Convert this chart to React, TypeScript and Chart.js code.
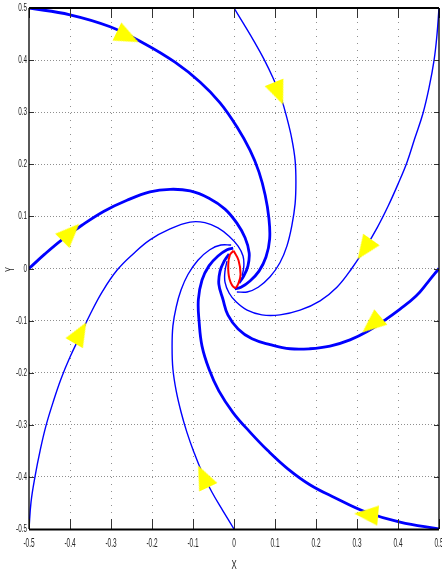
import React, { useEffect, useRef } from 'react';
import { Chart, registerables } from 'chart.js';

Chart.register(...registerables);

type Pt = [number, number];

const xTickValues = [-0.5, -0.4, -0.3, -0.2, -0.1, 0, 0.1, 0.2, 0.3, 0.4, 0.5];
const xTickLabels = ['-0.5', '-0.4', '-0.3', '-0.2', '-0.1', '0', '0.1', '0.2', '0.3', '0.4', '0.5'];
const yTickValues = [-0.5, -0.4, -0.3, -0.2, -0.1, 0, 0.1, 0.2, 0.3, 0.4, 0.5];
const yTickLabels = ['-0.5', '-0.4', '-0.3', '-0.2', '-0.1', '0', '0.1', '0.2', '0.3', '0.4', '0.5'];
const xTitle = 'X';
const yTitle = 'Y';

// thick trajectory from top-left corner
const curveA: Pt[] = [
  [-0.5, 0.5], [-0.4, 0.487], [-0.302, 0.464], [-0.217, 0.431], [-0.144, 0.396], [-0.083, 0.358],
  [-0.034, 0.318], [0.007, 0.272], [0.039, 0.227], [0.061, 0.185], [0.076, 0.141], [0.085, 0.097],
  [0.087, 0.057], [0.078, 0.022], [0.061, -0.005], [0.039, -0.024], [0.017, -0.036], [0.002, -0.039],
];
// thick trajectory from bottom-right corner
const curveA2: Pt[] = [
  [0.5, -0.5], [0.405, -0.487], [0.32, -0.467], [0.246, -0.44], [0.185, -0.415], [0.132, -0.385],
  [0.083, -0.35], [0.039, -0.314], [-0.002, -0.277], [-0.037, -0.235], [-0.061, -0.193], [-0.078, -0.149],
  [-0.085, -0.103], [-0.087, -0.06], [-0.078, -0.022], [-0.061, 0.005], [-0.039, 0.024], [-0.017, 0.036],
  [-0.002, 0.039],
];
// thick trajectory from left middle
const curveB: Pt[] = [
  [-0.5, 0.0], [-0.461, 0.028], [-0.42, 0.055], [-0.371, 0.083], [-0.317, 0.11], [-0.261, 0.131],
  [-0.205, 0.147], [-0.156, 0.152], [-0.107, 0.149], [-0.061, 0.135], [-0.022, 0.114], [0.007, 0.087],
  [0.027, 0.059], [0.037, 0.03], [0.034, 0.005], [0.024, -0.014], [0.012, -0.028],
];
// thick trajectory from right middle
const curveB2: Pt[] = [
  [0.5, 0.0], [0.473, -0.026], [0.444, -0.053], [0.405, -0.078], [0.368, -0.099], [0.327, -0.12],
  [0.283, -0.137], [0.234, -0.149], [0.185, -0.154], [0.137, -0.154], [0.088, -0.146], [0.044, -0.135],
  [0.01, -0.116], [-0.015, -0.089], [-0.027, -0.059], [-0.037, -0.03], [-0.034, -0.005], [-0.024, 0.014],
  [-0.012, 0.028],
];
// thin trajectory from top middle
const curveC: Pt[] = [
  [0.0, 0.5], [0.024, 0.469], [0.049, 0.436], [0.073, 0.402], [0.095, 0.366], [0.115, 0.327],
  [0.129, 0.289], [0.141, 0.249], [0.149, 0.208], [0.151, 0.166], [0.149, 0.124], [0.141, 0.082],
  [0.129, 0.043], [0.112, 0.011], [0.088, -0.016], [0.059, -0.036], [0.032, -0.045], [0.007, -0.045],
];
// thin trajectory from bottom middle
const curveC2: Pt[] = [
  [0.0, -0.5], [-0.027, -0.465], [-0.054, -0.429], [-0.078, -0.391], [-0.098, -0.352], [-0.115, -0.314],
  [-0.129, -0.276], [-0.141, -0.235], [-0.149, -0.193], [-0.151, -0.151], [-0.149, -0.11], [-0.141, -0.074],
  [-0.129, -0.041], [-0.112, -0.011], [-0.088, 0.016], [-0.059, 0.036], [-0.032, 0.045], [-0.007, 0.045],
];
// thin trajectory from top-right corner
const curveD: Pt[] = [
  [0.5, 0.5], [0.495, 0.448], [0.488, 0.4], [0.476, 0.348], [0.461, 0.298], [0.441, 0.25],
  [0.422, 0.204], [0.4, 0.162], [0.376, 0.12], [0.349, 0.078], [0.32, 0.039], [0.288, 0.001],
  [0.251, -0.036], [0.21, -0.062], [0.161, -0.08], [0.112, -0.089], [0.068, -0.089], [0.032, -0.08],
  [0.005, -0.064], [-0.012, -0.047], [-0.022, -0.026], [-0.022, -0.005], [-0.017, 0.014],
];
// thin trajectory from bottom-left corner
const curveD2: Pt[] = [
  [-0.5, -0.5], [-0.495, -0.448], [-0.485, -0.398], [-0.473, -0.35], [-0.459, -0.303], [-0.441, -0.256],
  [-0.422, -0.212], [-0.4, -0.17], [-0.376, -0.13], [-0.349, -0.085], [-0.32, -0.043], [-0.285, -0.003],
  [-0.246, 0.028], [-0.205, 0.055], [-0.156, 0.076], [-0.107, 0.089], [-0.071, 0.088], [-0.039, 0.078],
  [-0.012, 0.062], [0.01, 0.043], [0.022, 0.024], [0.024, 0.005], [0.02, -0.014],
];
// red closed orbit around the origin
const orbit: Pt[] = [
  [-0.001, 0.034], [0.011, 0.016], [0.016, -0.011], [0.011, -0.028], [0.002, -0.037],
  [-0.011, -0.02], [-0.014, 0.007], [-0.01, 0.026], [-0.001, 0.034],
];

// direction arrows: position and heading (screen degrees, clockwise)
const arrowX = [-0.268, 0.105, 0.324, 0.343, -0.405, -0.38, -0.071, 0.332];
const arrowY = [0.448, 0.343, 0.043, -0.103, 0.064, -0.13, -0.406, -0.473];
const arrowAngle = [26, 68, 125, 140, -45, -60, -115, 185];

const FONT = "'Liberation Sans', Arial, sans-serif";

function makeArrow(): HTMLCanvasElement {
  const c = document.createElement('canvas');
  c.width = 32;
  c.height = 20;
  const g = c.getContext('2d')!;
  g.fillStyle = '#ffff00';
  g.beginPath();
  g.moveTo(32, 10);
  g.lineTo(8, 0);
  g.lineTo(8, 20);
  g.closePath();
  g.fill();
  return c;
}

const toData = (pts: Pt[]) => pts.map(([x, y]) => ({ x, y }));

const boxPlugin = {
  id: 'matlabBox',
  afterDraw(chart: any) {
    const { ctx, chartArea } = chart;
    const { left, right, top, bottom } = chartArea;
    const xs = chart.scales.x;
    const ys = chart.scales.y;
    ctx.save();
    // inner tick marks
    ctx.strokeStyle = '#333';
    ctx.lineWidth = 1;
    ctx.beginPath();
    xs.ticks.forEach((t: any) => {
      const px = Math.round(xs.getPixelForValue(t.value)) + 0.5;
      ctx.moveTo(px, bottom);
      ctx.lineTo(px, bottom - 10);
      ctx.moveTo(px, top);
      ctx.lineTo(px, top + 10);
    });
    ys.ticks.forEach((t: any) => {
      const py = Math.round(ys.getPixelForValue(t.value)) + 0.5;
      ctx.moveTo(left, py);
      ctx.lineTo(left + 5, py);
      ctx.moveTo(right, py);
      ctx.lineTo(right - 5, py);
    });
    ctx.stroke();
    // axes box
    ctx.strokeStyle = '#000';
    ctx.lineWidth = 2;
    ctx.beginPath();
    ctx.moveTo(left, top);
    ctx.lineTo(right, top);
    ctx.moveTo(left, bottom + 0.5);
    ctx.lineTo(right, bottom + 0.5);
    ctx.stroke();
    ctx.lineWidth = 1.3;
    ctx.beginPath();
    ctx.moveTo(left, top);
    ctx.lineTo(left, bottom);
    ctx.moveTo(right, top);
    ctx.lineTo(right, bottom);
    ctx.stroke();

    // condensed tick labels and axis titles
    ctx.fillStyle = '#222';
    ctx.textBaseline = 'middle';
    ctx.font = `11px ${FONT}`;
    ctx.textAlign = 'right';
    ys.ticks.forEach((t: any, i: number) => {
      const py = ys.getPixelForValue(t.value);
      ctx.save();
      ctx.translate(left - 2, py);
      ctx.scale(0.58, 1);
      ctx.fillText(yTickLabels[i], 0, 0);
      ctx.restore();
    });
    ctx.font = `13px ${FONT}`;
    ctx.textAlign = 'center';
    xs.ticks.forEach((t: any, i: number) => {
      const px = xs.getPixelForValue(t.value);
      ctx.save();
      ctx.translate(px, bottom + 14);
      ctx.scale(0.5, 1);
      ctx.fillText(xTickLabels[i], 0, 0);
      ctx.restore();
    });
    ctx.save();
    ctx.translate((left + right) / 2, bottom + 36);
    ctx.scale(0.6, 1);
    ctx.fillText(xTitle, 0, 0);
    ctx.restore();
    ctx.save();
    ctx.font = `12px ${FONT}`;
    ctx.translate(left - 18, (top + bottom) / 2 + 1);
    ctx.rotate(-Math.PI / 2);
    ctx.scale(0.6, 1);
    ctx.fillText(yTitle, 0, 0);
    ctx.restore();
    ctx.restore();
  },
};

export default function App() {
  const ref = useRef<HTMLCanvasElement | null>(null);

  useEffect(() => {
    if (!ref.current) return;
    const arrowImg = makeArrow();
    const line = (pts: Pt[], w: number) => ({
      data: toData(pts),
      showLine: true,
      borderColor: '#0000ff',
      borderWidth: w,
      pointRadius: 0,
      tension: 0.4,
      fill: false,
      order: 3,
    });
    const gridColor = (c: any) => (c.index === 0 || c.index === 10 ? 'rgba(0,0,0,0)' : '#8f8f8f');
    const chart = new Chart(ref.current, {
      type: 'scatter',
      data: {
        datasets: [
          {
            data: arrowX.map((x, i) => ({ x, y: arrowY[i] })),
            pointStyle: arrowImg as any,
            pointRotation: arrowAngle,
            pointRadius: 10,
            showLine: false,
            order: 0,
          } as any,
          {
            data: toData(orbit),
            showLine: true,
            borderColor: '#ff0000',
            borderWidth: 2,
            pointRadius: 0,
            tension: 0.4,
            order: 1,
          },
          line(curveA, 2.8),
          line(curveA2, 2.8),
          line(curveB, 2.8),
          line(curveB2, 2.8),
          line(curveC, 1.4),
          line(curveC2, 1.4),
          line(curveD, 1.4),
          line(curveD2, 1.4),
        ],
      },
      options: {
        animation: false,
        responsive: false,
        devicePixelRatio: 1,
        events: [],
        layout: { padding: { top: 8, right: 3, bottom: 0, left: 0 }, autoPadding: false },
        plugins: { legend: { display: false }, tooltip: { enabled: false } },
        scales: {
          x: {
            type: 'linear',
            min: -0.5,
            max: 0.5,
            afterBuildTicks: (s: any) => {
              s.ticks = xTickValues.map((v) => ({ value: v }));
            },
            afterFit: (s: any) => {
              s.height = 43;
              s.paddingLeft = 0;
              s.paddingRight = 0;
            },
            grid: { color: gridColor, lineWidth: 1, drawTicks: false },
            border: { display: false, dash: [1, 6] },
            ticks: { display: false },
            title: { display: false },
          },
          y: {
            type: 'linear',
            min: -0.5,
            max: 0.5,
            afterBuildTicks: (s: any) => {
              s.ticks = yTickValues.map((v) => ({ value: v }));
            },
            afterFit: (s: any) => {
              s.width = 29;
              s.paddingTop = 0;
              s.paddingBottom = 0;
            },
            grid: { color: gridColor, lineWidth: 1, drawTicks: false },
            border: { display: false, dash: [1, 2] },
            ticks: { display: false },
            title: { display: false },
          },
        },
      },
      plugins: [boxPlugin],
    } as any);
    return () => chart.destroy();
  }, []);

  return (
    <div style={{ position: 'fixed', left: 0, top: 0, width: 442, height: 572, background: '#fff' }}>
      <canvas ref={ref} width={442} height={572} style={{ display: 'block' }} />
    </div>
  );
}
